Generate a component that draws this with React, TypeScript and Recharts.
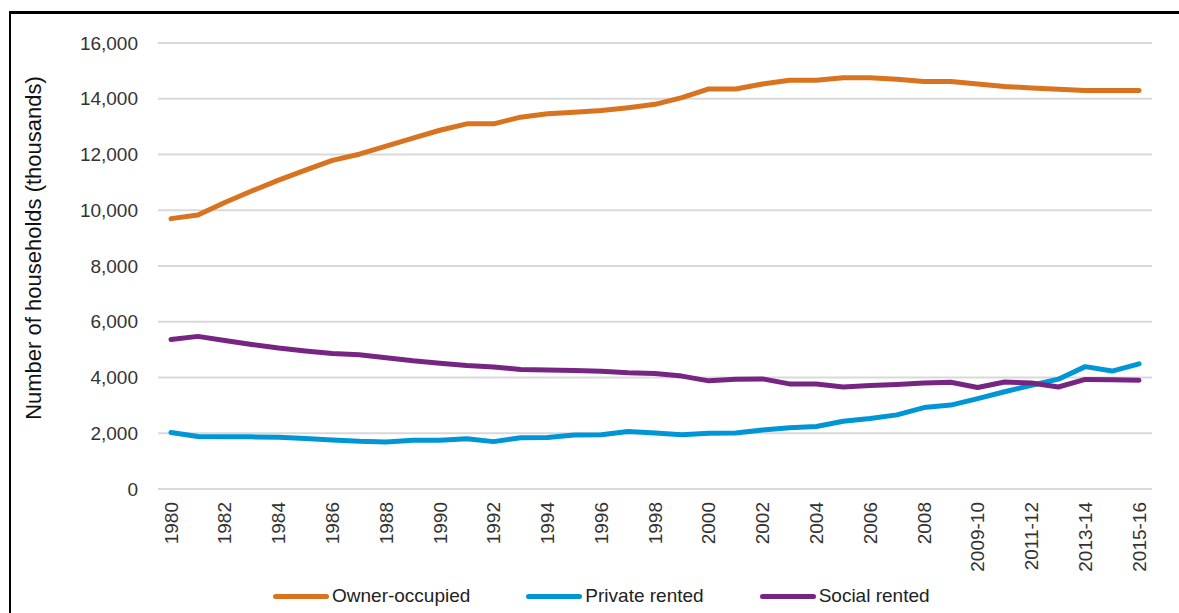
import React from "react";
import { LineChart, Line, XAxis, YAxis, CartesianGrid } from "recharts";

// Survey years: annual to 2008, then financial years
const years = [
  "1980", "1981", "1982", "1983", "1984", "1985", "1986", "1987", "1988", "1989",
  "1990", "1991", "1992", "1993", "1994", "1995", "1996", "1997", "1998", "1999",
  "2000", "2001", "2002", "2003", "2004", "2005", "2006", "2007", "2008",
  "2008-09", "2009-10", "2010-11", "2011-12", "2012-13", "2013-14", "2014-15", "2015-16",
];

// households in thousands
const ownerOccupied = [
  9700, 9830, 10280, 10690, 11080, 11440, 11790, 12010, 12300, 12590,
  12870, 13100, 13100, 13340, 13460, 13520, 13580, 13680, 13800, 14040,
  14350, 14350, 14530, 14660, 14660, 14750, 14750, 14700, 14620,
  14620, 14530, 14440, 14390, 14340, 14300, 14300, 14300,
];

const privateRented = [
  2030, 1880, 1870, 1870, 1860, 1810, 1760, 1710, 1690, 1750,
  1750, 1800, 1700, 1840, 1850, 1940, 1950, 2060, 2010, 1950,
  2000, 2010, 2120, 2200, 2240, 2430, 2530, 2660, 2920,
  3010, 3240, 3490, 3720, 3940, 4390, 4230, 4490,
];

const socialRented = [
  5365, 5475, 5330, 5185, 5055, 4950, 4860, 4815, 4710, 4600,
  4515, 4430, 4380, 4290, 4265, 4250, 4220, 4170, 4145, 4050,
  3880, 3940, 3950, 3770, 3770, 3660, 3710, 3750, 3800,
  3830, 3640, 3840, 3800, 3660, 3930, 3920, 3900,
];

const yTicks = [0, 2000, 4000, 6000, 8000, 10000, 12000, 14000, 16000];

const series = [
  { key: "owner", name: "Owner-occupied", color: "#D8731F" },
  { key: "private", name: "Private rented", color: "#0096D6" },
  { key: "social", name: "Social rented", color: "#772583" },
];

const data = years.map((year, i) => ({
  year,
  owner: ownerOccupied[i],
  private: privateRented[i],
  social: socialRented[i],
}));

const FONT = '"Liberation Sans", Arial, sans-serif';

const YearTick = (props: any) => {
  const { x, y, payload } = props;
  return (
    <text
      x={x}
      y={y}
      dy="0.35em"
      textAnchor="end"
      transform={`rotate(-90, ${x}, ${y})`}
      fill="#333"
      fontSize={19}
      fontFamily={FONT}
    >
      {payload.value}
    </text>
  );
};

const YTitle = () => (
  <text
    x={33}
    y={248}
    dy="0.35em"
    textAnchor="middle"
    transform="rotate(-90, 33, 248)"
    fill="#111"
    fontSize={22}
    fontFamily={FONT}
  >
    Number of households (thousands)
  </text>
);

export default function App() {
  return (
    <div
      style={{
        position: "absolute",
        left: 0,
        top: 0,
        width: 1179,
        height: 613,
        overflow: "hidden",
        background: "#fff",
        fontFamily: FONT,
      }}
    >
      {/* frame around the figure */}
      <div
        style={{
          position: "absolute",
          left: 9,
          top: 11,
          width: 1300,
          height: 700,
          borderLeft: "2px solid #000",
          borderTop: "3px solid #000",
        }}
      />
      <div style={{ position: "absolute", left: 0, top: 0 }}>
        <LineChart
          width={1179}
          height={613}
          data={data}
          margin={{ top: 43, right: 27, left: 0, bottom: 0 }}
        >
          <CartesianGrid vertical={false} stroke="#D9D9D9" strokeWidth={2} />
          <XAxis
            dataKey="year"
            interval={1}
            height={124}
            axisLine={false}
            tickLine={false}
            tickSize={0}
            tickMargin={13}
            padding={{ left: 13, right: 13 }}
            tick={<YearTick />}
          />
          <YAxis
            width={158}
            domain={[0, 16000]}
            ticks={yTicks}
            axisLine={false}
            tickLine={false}
            tickSize={0}
            tickMargin={20}
            tickFormatter={(v: number) => v.toLocaleString("en-US")}
            tick={{ fill: "#333", fontSize: 19, fontFamily: FONT }}
            label={<YTitle />}
          />
          {series.map((s) => (
            <Line
              key={s.key}
              type="linear"
              dataKey={s.key}
              name={s.name}
              stroke={s.color}
              strokeWidth={5}
              strokeLinecap="round"
              strokeLinejoin="round"
              dot={false}
              activeDot={false}
              isAnimationActive={false}
            />
          ))}
        </LineChart>
      </div>
      {/* legend */}
      <div
        style={{
          position: "absolute",
          left: 273,
          top: 584,
          display: "flex",
          alignItems: "center",
          gap: 56,
          fontSize: 19,
          color: "#222",
          lineHeight: "24px",
        }}
      >
        {series.map((s) => (
          <div key={s.key} style={{ display: "flex", alignItems: "center" }}>
            <span
              style={{
                display: "inline-block",
                width: 56,
                height: 5,
                borderRadius: 3,
                background: s.color,
                marginRight: 3,
              }}
            />
            <span>{s.name}</span>
          </div>
        ))}
      </div>
    </div>
  );
}
